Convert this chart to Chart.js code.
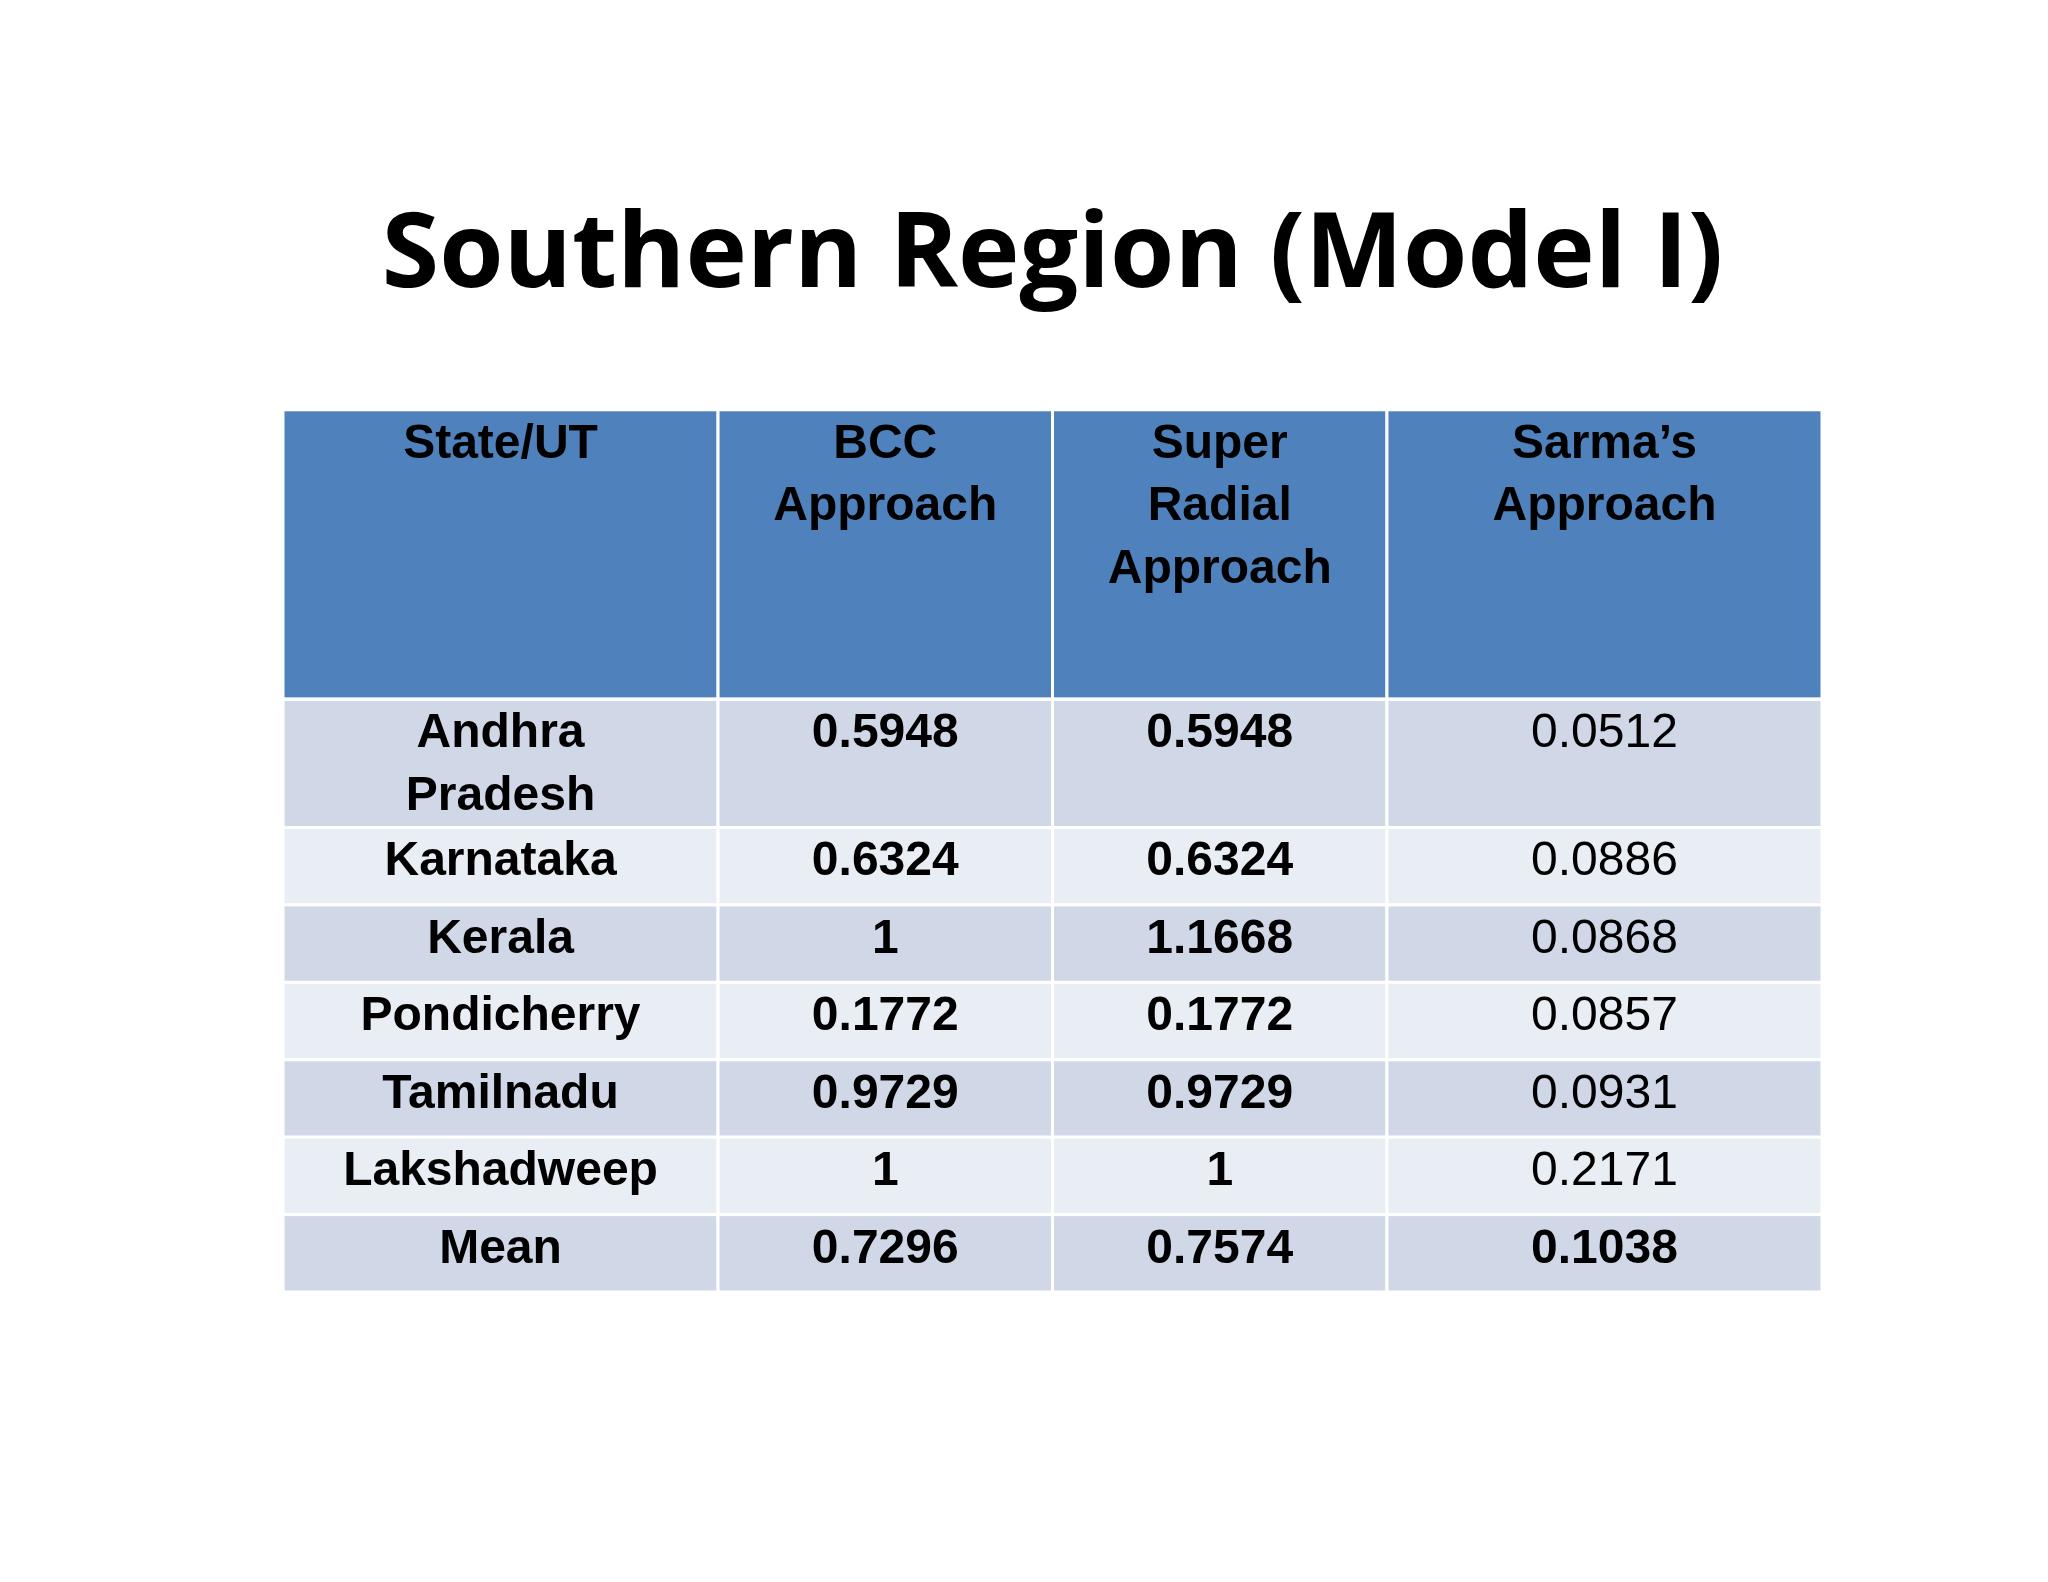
<!DOCTYPE html>
<html><head><meta charset="utf-8">
<script src="https://cdn.jsdelivr.net/npm/chart.js@4"></script>
<style>html,body{margin:0;padding:0;background:#fff}#w{width:2048px;height:1582px}</style>
</head><body><div id="w"><canvas id="c"></canvas></div>
<script>
const headers = ["State/UT", "BCC\nApproach", "Super\nRadial\nApproach", "Sarma\u2019s\nApproach"];
const states = ["Andhra\nPradesh", "Karnataka", "Kerala", "Pondicherry", "Tamilnadu", "Lakshadweep", "Mean"];
const bcc = ["0.5948", "0.6324", "1", "0.1772", "0.9729", "1", "0.7296"];
const superRadial = ["0.5948", "0.6324", "1.1668", "0.1772", "0.9729", "1", "0.7574"];
const sarma = ["0.0512", "0.0886", "0.0868", "0.0857", "0.0931", "0.2171", "0.1038"];

const colEdges = [0, 333, 589, 845, 1178];
const rowEdges = [0, 217, 313, 371, 429, 487, 545, 603, 661];
const columns = [states, bcc, superRadial, sarma];

const tablePlugin = {
  id: 'table',
  afterDraw(chart) {
    const ctx = chart.ctx, xs = chart.scales.x, ys = chart.scales.y;
    const X = v => xs.getPixelForValue(v), Y = v => ys.getPixelForValue(v);
    const unit = Y(1) - Y(0);
    ctx.save();
    for (let r = 0; r < rowEdges.length - 1; r++) {
      for (let c = 0; c < 4; c++) {
        const x0 = X(colEdges[c]), x1 = X(colEdges[c + 1]);
        const y0 = Y(rowEdges[r]), y1 = Y(rowEdges[r + 1]);
        ctx.fillStyle = r === 0 ? '#4F81BD' : (r % 2 === 1 ? '#D0D8E8' : '#E9EDF4');
        ctx.fillRect(x0, y0, x1 - x0, y1 - y0);
        ctx.strokeStyle = '#ffffff';
        ctx.lineWidth = (r === 1 && false) ? 6 : 3;
        ctx.strokeRect(x0, y0, x1 - x0, y1 - y0);
        const txt = r === 0 ? headers[c] : columns[c][r - 1];
        const bold = !(c === 3 && r > 0 && r < 7);
        ctx.font = (bold ? 'bold ' : '') + '48px "Liberation Sans", Arial, sans-serif';
        ctx.fillStyle = '#000';
        ctx.textAlign = 'center';
        ctx.textBaseline = 'middle';
        const lines = txt.split('\n');
        lines.forEach((ln, i) => {
          ctx.fillText(ln, (x0 + x1) / 2, y0 + (26 + 47 * i) * unit);
        });
      }
      if (r === 0) {
        ctx.fillStyle = '#fff';
        ctx.fillRect(X(0), Y(217) - 2, X(1178) - X(0), 5);
      }
    }
    ctx.restore();
  }
};

new Chart(document.getElementById('c'), {
  type: 'scatter',
  data: { datasets: [{ data: [] }] },
  options: {
    responsive: true, maintainAspectRatio: false, animation: false,
    layout: { padding: { left: 283, right: 226, top: 0, bottom: 290 } },
    plugins: {
      legend: { display: false }, tooltip: { enabled: false },
      title: { display: true, text: 'Southern Region (Model I)', color: '#000',
        font: { family: '"Open Sans", sans-serif', weight: 'bold', size: 104 },
        padding: { top: 195, bottom: 90 } }
    },
    scales: {
      x: { type: 'linear', min: 0, max: 1178, display: false },
      y: { type: 'linear', min: 0, max: 661, reverse: true, display: false }
    }
  },
  plugins: [tablePlugin]
});
</script></body></html>
